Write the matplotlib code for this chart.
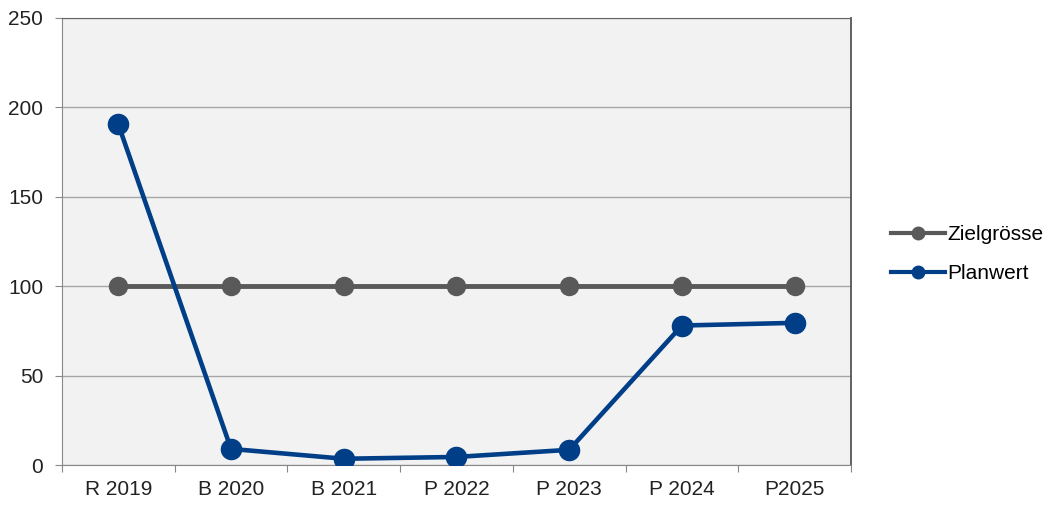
import numpy as np
import matplotlib.pyplot as plt
from matplotlib.lines import Line2D

plt.rcParams['font.family'] = ['Liberation Sans', 'DejaVu Sans']

# categories and series
labels = ['R 2019', 'B 2020', 'B 2021', 'P 2022', 'P 2023', 'P 2024', 'P2025']
zielgroesse = [100, 100, 100, 100, 100, 100, 100]
planwert = [190.5, 9.0, 3.5, 4.5, 8.5, 78.0, 79.5]

fig = plt.figure(figsize=(10.5, 5.05), dpi=100)
ax = fig.add_axes([0.059, 0.0792, 0.7515, 0.8852])
ax.set_facecolor('#f2f2f2')

x = np.arange(len(labels))
ax.plot(x, zielgroesse, color='#595959', lw=3.5, marker='o', ms=13,
        label='Zielgrösse', zorder=3)
ax.plot(x, planwert, color='#003f87', lw=3.3, marker='o', ms=14.5,
        label='Planwert', zorder=4)

ax.set_xlim(-0.5, len(labels) - 0.5)
ax.set_ylim(0, 250)
ax.set_yticks(np.arange(0, 251, 50))
ax.yaxis.grid(True, color='#a6a6a6', lw=1.0)
ax.set_axisbelow(True)

# category ticks sit on the boundaries, labels in the middle
ax.set_xticks(np.arange(len(labels) + 1) - 0.5)
ax.set_xticklabels([])
ax.set_xticks(x, minor=True)
ax.set_xticklabels(labels, minor=True)
ax.tick_params(axis='x', which='major', length=5, color='#888888', direction='out')
ax.tick_params(axis='x', which='minor', length=0, labelsize=15, pad=11,
               labelcolor='#222222')
ax.tick_params(axis='y', length=5, color='#888888', labelsize=15, pad=8.5,
               labelcolor='#222222')

for s in ['left', 'bottom']:
    ax.spines[s].set_color('#888888')
ax.spines['top'].set_color('#666666')
ax.spines['right'].set_color('#555555')
ax.spines['right'].set_linewidth(1.3)

handles = [Line2D([], [], color='#595959', lw=3.0, marker='o', ms=9),
           Line2D([], [], color='#003f87', lw=3.0, marker='o', ms=9)]
fig.legend(handles, ['Zielgrösse', 'Planwert'], loc='center left',
           bbox_to_anchor=(0.835, 0.497), frameon=False, fontsize=15,
           handlelength=2.6, handletextpad=0.1, labelspacing=0.95,
           borderpad=0.2)

fig.savefig('out.png', dpi=100)
